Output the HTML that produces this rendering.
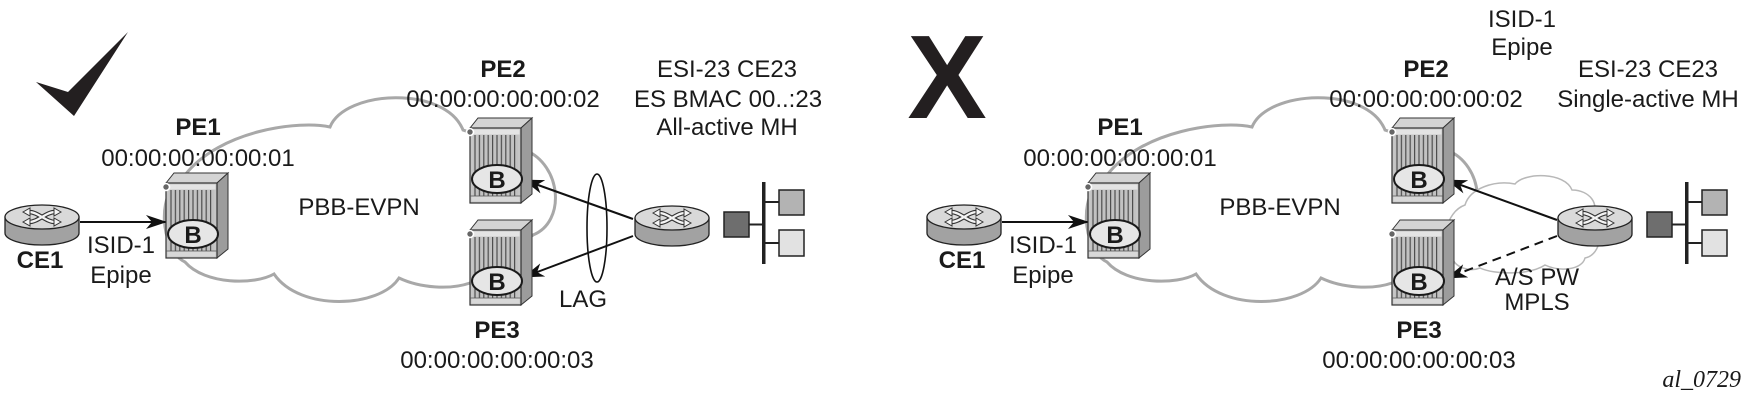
<!DOCTYPE html>
<html>
<head>
<meta charset="utf-8">
<style>
html,body{margin:0;padding:0;background:#fff;}
svg{display:block;}
text{font-family:"Liberation Sans",Arial,sans-serif;font-size:24px;fill:#1a1a1a;}
.b{font-weight:bold;}
</style>
</head>
<body>
<svg width="1748" height="405" viewBox="0 0 1748 405" xmlns="http://www.w3.org/2000/svg">
<defs>
  <pattern id="st" x="0" y="0" width="4.4" height="10" patternUnits="userSpaceOnUse">
    <rect width="4.4" height="10" fill="#c2c2c2"/>
    <rect width="1.2" height="10" fill="#4d4d4d"/>
  </pattern>
  <marker id="ah" markerWidth="21" markerHeight="14" refX="20" refY="7" orient="auto" markerUnits="userSpaceOnUse">
    <path d="M0,0 L21,7 L0,14 L6,7 Z" fill="#111"/>
  </marker>
  <g id="cloudg">
    <path d="M330,127 C345,90 445,85 463,130 L525,150 C562,165 566,222 533,235 L470,283 C450,290 420,288 399,278 C380,308 300,312 274,274 C255,285 205,285 185,262 C160,250 155,190 185,175 C220,130 300,120 330,127 Z" fill="#fff" stroke="#a8a8a8" stroke-width="3"/>
  </g>
  <g id="dev">
    <polygon points="0,10 8,0 62,0 51,10" fill="#d4d4d4" stroke="#333" stroke-width="1"/>
    <polygon points="51,10 62,0 62,76 51,85" fill="#9c9c9c" stroke="#333" stroke-width="1"/>
    <rect x="0" y="10" width="51" height="75" fill="#c6c6c6" stroke="#333" stroke-width="1.2"/>
    <rect x="1.5" y="11.5" width="48" height="5" fill="#e4e4e4"/>
    <rect x="3" y="17" width="45" height="61" fill="url(#st)"/>
    <rect x="1.5" y="78.5" width="48" height="5" fill="#d8d8d8"/>
    <line x1="0" y1="78" x2="51" y2="78" stroke="#555" stroke-width="0.8"/>
    <circle cx="0" cy="14" r="3.5" fill="#666" stroke="#fff" stroke-width="1.6"/>
    <ellipse cx="27" cy="61" rx="25" ry="14" fill="#e6e6e6" stroke="#1a1a1a" stroke-width="2"/>
  </g>
  <g id="rt">
    <path d="M-37,0 L-37,16 A37,12 0 0 0 37,16 L37,0 Z" fill="#a2a2a2" stroke="#222" stroke-width="1.3"/>
    <ellipse cx="0" cy="0" rx="37" ry="12" fill="#d9d9d9" stroke="#222" stroke-width="1.3"/>
    <g fill="none" stroke-linecap="round">
      <path d="M-13,-5 C-4,-5 4,5 13,5 M-13,5 C-4,5 4,-5 13,-5" stroke="#333" stroke-width="4.5"/>
      <path d="M-13,-5 C-4,-5 4,5 13,5 M-13,5 C-4,5 4,-5 13,-5" stroke="#f4f4f4" stroke-width="2.2"/>
    </g>
    <path d="M-19,-5 L-12,-9 L-12,-1 Z M-19,5 L-12,1 L-12,9 Z M19,-5 L12,-9 L12,-1 Z M19,5 L12,1 L12,9 Z" fill="#f4f4f4" stroke="#333" stroke-width="1"/>
  </g>
  <g id="hosts">
    <line x1="749" y1="224.5" x2="763" y2="224.5" stroke="#222" stroke-width="2"/>
    <line x1="764" y1="202" x2="779" y2="202" stroke="#222" stroke-width="2"/>
    <line x1="764" y1="243" x2="779" y2="243" stroke="#222" stroke-width="2"/>
    <rect x="762" y="182" width="3.5" height="82" fill="#222"/>
    <rect x="724" y="212" width="25" height="25" fill="#6e6e6e" stroke="#222" stroke-width="1.5"/>
    <rect x="779" y="190" width="25" height="25" fill="#b3b3b3" stroke="#222" stroke-width="1.5"/>
    <rect x="779" y="230" width="25" height="26" fill="#e2e2e2" stroke="#222" stroke-width="1.5"/>
  </g>
</defs>

<!-- ================= LEFT DIAGRAM ================= -->
<polygon points="36,82 68,92 128,32 74,116" fill="#231f20"/>

<use href="#cloudg"/>

<!-- arrows -->
<line x1="80" y1="222" x2="166" y2="222" stroke="#111" stroke-width="2" marker-end="url(#ah)"/>
<line x1="633" y1="219" x2="524" y2="180" stroke="#111" stroke-width="2" marker-end="url(#ah)"/>
<line x1="633" y1="236" x2="524" y2="277" stroke="#111" stroke-width="2" marker-end="url(#ah)"/>
<ellipse cx="597" cy="228" rx="10" ry="54" fill="none" stroke="#111" stroke-width="1.6"/>

<!-- devices -->
<use href="#dev" x="166" y="173"/>
<use href="#dev" x="470" y="118"/>
<use href="#dev" x="470" y="220"/>
<text class="b" x="193" y="243" text-anchor="middle">B</text>
<text class="b" x="497" y="188" text-anchor="middle">B</text>
<text class="b" x="497" y="290" text-anchor="middle">B</text>

<use href="#rt" x="42" y="217"/>
<use href="#rt" x="672" y="218"/>
<use href="#hosts"/>

<text class="b" x="198" y="135" text-anchor="middle">PE1</text>
<text x="198" y="166" text-anchor="middle">00:00:00:00:00:01</text>
<text class="b" x="503" y="77" text-anchor="middle">PE2</text>
<text x="503" y="107" text-anchor="middle">00:00:00:00:00:02</text>
<text class="b" x="497" y="338" text-anchor="middle">PE3</text>
<text x="497" y="368" text-anchor="middle">00:00:00:00:00:03</text>
<text class="b" x="40" y="268" text-anchor="middle">CE1</text>
<text x="121" y="253" text-anchor="middle">ISID-1</text>
<text x="121" y="283" text-anchor="middle">Epipe</text>
<text x="359" y="215" text-anchor="middle">PBB-EVPN</text>
<text x="727" y="77" text-anchor="middle">ESI-23 CE23</text>
<text x="728" y="107" text-anchor="middle">ES BMAC 00..:23</text>
<text x="727" y="135" text-anchor="middle">All-active MH</text>
<text x="583" y="307" text-anchor="middle">LAG</text>

<!-- ================= RIGHT DIAGRAM ================= -->
<text class="b" x="947" y="118" text-anchor="middle" style="font-size:119px;fill:#231f20">X</text>

<use href="#cloudg" x="922"/>

<!-- small MPLS cloud -->
<path d="M1452,257 C1440,245 1445,212 1465,205 C1470,188 1495,180 1515,184 C1525,172 1565,172 1572,190 C1590,190 1600,205 1592,215 C1605,225 1602,255 1585,258 C1582,270 1560,272 1545,265 C1530,275 1495,275 1480,268 C1470,272 1455,268 1452,257 Z" fill="#fff" stroke="#b8b8b8" stroke-width="1.5"/>

<line x1="1002" y1="222" x2="1088" y2="222" stroke="#111" stroke-width="2" marker-end="url(#ah)"/>
<line x1="1557" y1="220" x2="1447" y2="180" stroke="#111" stroke-width="2" marker-end="url(#ah)"/>
<line x1="1557" y1="236" x2="1447" y2="278" stroke="#111" stroke-width="2" stroke-dasharray="9,6" marker-end="url(#ah)"/>

<use href="#dev" x="1088" y="173"/>
<use href="#dev" x="1392" y="118"/>
<use href="#dev" x="1392" y="220"/>
<text class="b" x="1115" y="243" text-anchor="middle">B</text>
<text class="b" x="1419" y="188" text-anchor="middle">B</text>
<text class="b" x="1419" y="290" text-anchor="middle">B</text>

<use href="#rt" x="964" y="217"/>
<use href="#rt" x="1595" y="218"/>
<use href="#hosts" x="923"/>

<text class="b" x="1120" y="135" text-anchor="middle">PE1</text>
<text x="1120" y="166" text-anchor="middle">00:00:00:00:00:01</text>
<text class="b" x="1426" y="77" text-anchor="middle">PE2</text>
<text x="1426" y="107" text-anchor="middle">00:00:00:00:00:02</text>
<text class="b" x="1419" y="338" text-anchor="middle">PE3</text>
<text x="1419" y="368" text-anchor="middle">00:00:00:00:00:03</text>
<text class="b" x="962" y="268" text-anchor="middle">CE1</text>
<text x="1043" y="253" text-anchor="middle">ISID-1</text>
<text x="1043" y="283" text-anchor="middle">Epipe</text>
<text x="1280" y="215" text-anchor="middle">PBB-EVPN</text>
<text x="1522" y="27" text-anchor="middle">ISID-1</text>
<text x="1522" y="55" text-anchor="middle">Epipe</text>
<text x="1648" y="77" text-anchor="middle">ESI-23 CE23</text>
<text x="1648" y="107" text-anchor="middle">Single-active MH</text>
<text x="1537" y="285" text-anchor="middle">A/S PW</text>
<text x="1537" y="310" text-anchor="middle">MPLS</text>
<text x="1741" y="387" text-anchor="end" style="font-family:'Liberation Serif','Times New Roman',serif;font-style:italic;font-size:24px">al_0729</text>
</svg>
</body>
</html>
